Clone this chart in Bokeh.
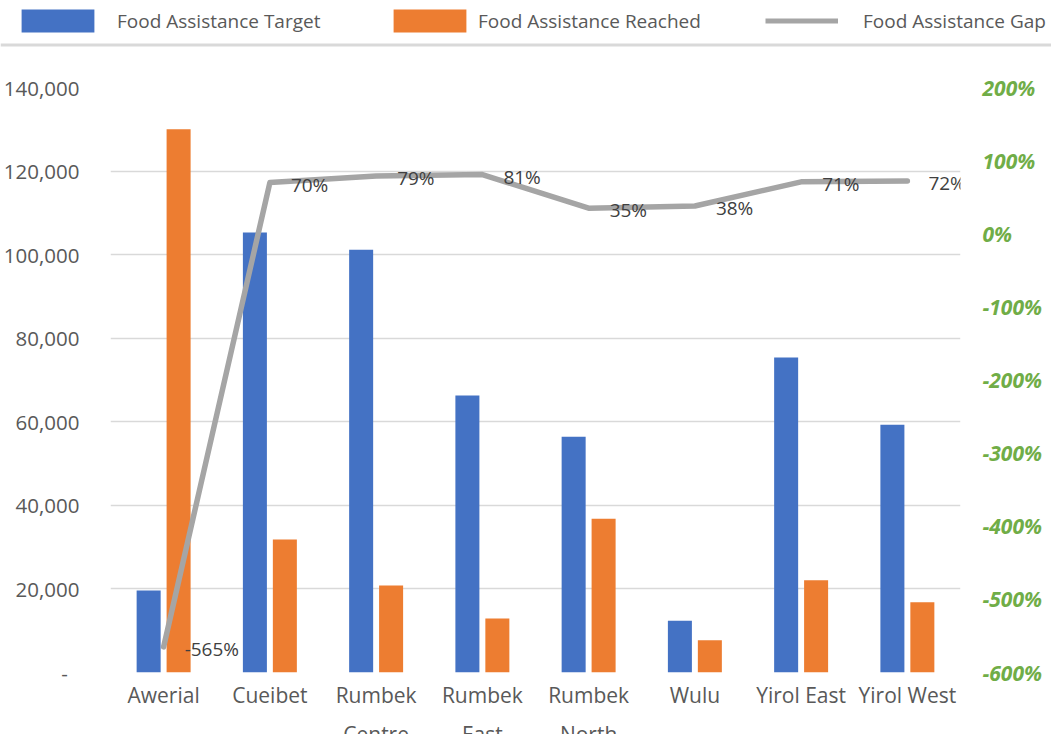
from bokeh.plotting import figure
from bokeh.models import (Range1d, FactorRange, LinearAxis, FixedTicker, NumeralTickFormatter,
                          ColumnDataSource, LabelSet, Legend, LegendItem, Span,
                          GlobalInlineStyleSheet)
from bokeh.transform import dodge
from bokeh.layouts import column, row
from bokeh.core.properties import value
from bokeh.embed import file_html
from bokeh.resources import INLINE

# ---------------- data ----------------
# category labels as (second line, first line) so the axis prints them on two rows
districts = [("", "Awerial"), ("", "Cueibet"), ("Centre", "Rumbek"), ("East", "Rumbek"),
             ("North", "Rumbek"), (" ", "Wulu"), (" ", "Yirol East"), (" ", "Yirol West")]
target = [19600, 105300, 101200, 66300, 56400, 12400, 75400, 59300]
reached = [130000, 31800, 20800, 12900, 36800, 7700, 22100, 16800]
gap = [-5.65, 0.70, 0.79, 0.81, 0.35, 0.38, 0.71, 0.72]
left_ticks = [0, 20000, 40000, 60000, 80000, 100000, 120000, 140000]
right_ticks = [-6, -5, -4, -3, -2, -1, 0, 1, 2]
series_names = ["Food Assistance Target", "Food Assistance Reached", "Food Assistance Gap"]

BLUE = "#4472C4"
ORANGE = "#ED7D31"
GRAY = "#A5A5A5"
GREEN = "#70AD47"
TXT = "#595959"
FONT = "Open Sans"

src = ColumnDataSource(dict(
    district=districts, target=target, reached=reached, gap=gap,
    gap_label=[f"{round(g * 100):d}%" for g in gap],
))

# ---------------- main chart ----------------
p = figure(x_range=FactorRange(*districts, range_padding=0, group_padding=0, factor_padding=0),
           y_range=Range1d(0, 140000), width=1051, height=704,
           min_border_left=110, min_border_right=91, min_border_top=39, min_border_bottom=80,
           toolbar_location=None, output_backend="svg", outline_line_color=None,
           background_fill_color="white", border_fill_color="white")
p.extra_y_ranges = {"pct": Range1d(-6, 2)}

rb = p.vbar(x=dodge("district", -0.141, range=p.x_range), top="target", width=0.226,
            source=src, fill_color=BLUE, line_color=None)
ro = p.vbar(x=dodge("district", 0.141, range=p.x_range), top="reached", width=0.226,
            source=src, fill_color=ORANGE, line_color=None)
rl = p.line(x="district", y="gap", source=src, y_range_name="pct", line_color=GRAY,
            line_width=5.5, line_cap="round", line_join="round")

labels = LabelSet(x="district", y="gap", text="gap_label", source=src, y_range_name="pct",
                  x_offset=21, y_offset=-2, text_align="left", text_baseline="middle",
                  text_font=value(FONT), text_font_size="19px", text_color="#404040")
p.add_layout(labels)

# grid
p.xgrid.visible = False
p.ygrid.ticker = FixedTicker(ticks=left_ticks)
p.ygrid.grid_line_color = "#D9D9D9"
p.ygrid.grid_line_width = 1.5

# left axis
ya = p.yaxis[0]
ya.ticker = FixedTicker(ticks=left_ticks)
ya.formatter = NumeralTickFormatter(format="0,0")
ya.major_label_overrides = {0: "-\u2007"}
ya.axis_line_color = None
ya.major_tick_line_color = None
ya.minor_tick_line_color = None
ya.major_label_standoff = 25
ya.major_label_text_font = FONT
ya.major_label_text_font_size = "20.5px"
ya.major_label_text_color = TXT

# right axis
ra = LinearAxis(y_range_name="pct", ticker=FixedTicker(ticks=right_ticks),
                formatter=NumeralTickFormatter(format="0%"))
ra.axis_line_color = None
ra.major_tick_line_color = None
ra.minor_tick_line_color = None
ra.major_label_standoff = 16
ra.major_label_text_font = FONT
ra.major_label_text_font_size = "21px"
ra.major_label_text_font_style = "bold italic"
ra.major_label_text_color = GREEN
p.add_layout(ra, "right")

# x axis: first row = place name, second row = its continuation
xa = p.xaxis[0]
xa.axis_line_color = None
xa.major_tick_line_color = None
xa.major_tick_out = 0
xa.major_label_standoff = 8
xa.major_label_text_font = FONT
xa.major_label_text_font_size = "21px"
xa.major_label_text_color = TXT
xa.group_text_font = FONT
xa.group_text_font_size = "21px"
xa.group_text_font_style = "normal"
xa.group_text_color = TXT
xa.separator_line_color = None

# ---------------- legend strip ----------------
top = figure(width=1051, height=48, x_range=Range1d(0, 1051), y_range=Range1d(0, 48),
             toolbar_location=None, output_backend="svg", min_border=0,
             x_axis_location=None, y_axis_location=None, outline_line_color=None)
top.grid.visible = False
# zero-size proxies carrying the series styles for the legend keys
lb = top.vbar(x=[0], top=[0], width=0, fill_color=BLUE, line_color=None)
lo = top.vbar(x=[0], top=[0], width=0, fill_color=ORANGE, line_color=None)
lg = top.line(x=[0, 0], y=[0, 0], line_color=GRAY, line_width=5)
legend_specs = [  # renderer, key width, location x, label standoff
    (lb, 91, 12, 14),
    (lo, 91, 384, 3),
    (lg, 73, 765, 25),
]
for (rend, gw, xloc, stand), name in zip(legend_specs, series_names):
    leg = Legend(items=[LegendItem(label=name, renderers=[rend])], location=(xloc, 13),
                 orientation="horizontal", glyph_width=gw, glyph_height=29, label_height=29,
                 label_standoff=stand, padding=0, margin=0, border_line_color=None,
                 background_fill_alpha=0, label_text_font=FONT, label_text_font_size="19px",
                 label_text_color=TXT)
    top.add_layout(leg, "center")
top.add_layout(Span(location=3.5, dimension="width", line_color="#D9D9D9", line_width=3))

layout = column(row(top), p,
                stylesheets=[GlobalInlineStyleSheet(css="html, body { overflow: hidden !important; }")])
open("out.html", "w").write(file_html(layout, INLINE))
